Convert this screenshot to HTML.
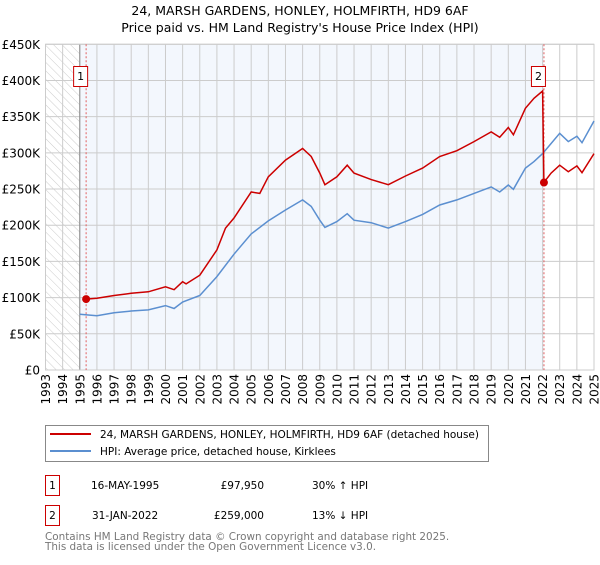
<!DOCTYPE html>
<html><head><meta charset="utf-8"><style>
body{margin:0;background:#fff;width:600px;height:560px;overflow:hidden}
svg{font-family:"DejaVu Sans","Liberation Sans",sans-serif}
</style></head><body>
<svg id="c" width="600" height="560">
<defs><pattern id="hatch" width="6" height="6" patternUnits="userSpaceOnUse" patternTransform="rotate(-45)"><line x1="0" y1="0" x2="0" y2="6" stroke="#ccc" stroke-width="1"/></pattern></defs>
<text x="300" y="15" text-anchor="middle" font-size="12.5">24, MARSH GARDENS, HONLEY, HOLMFIRTH, HD9 6AF</text>
<text x="300" y="32" text-anchor="middle" font-size="12.5">Price paid vs. HM Land Registry's House Price Index (HPI)</text>
<g id="plot"></g>
<rect x="45.5" y="425.5" width="443" height="36" fill="#fff" stroke="#888"/>
<line x1="50" y1="434" x2="91" y2="434" stroke="#cc0000" stroke-width="2"/>
<text x="100" y="438" font-size="10.5">24, MARSH GARDENS, HONLEY, HOLMFIRTH, HD9 6AF (detached house)</text>
<line x1="50" y1="451" x2="91" y2="451" stroke="#5b8fd0" stroke-width="2"/>
<text x="100" y="455" font-size="10.5">HPI: Average price, detached house, Kirklees</text>
<g font-size="10.5">
<rect x="45.5" y="475.5" width="14" height="20" fill="#fff" stroke="#cc0000"/>
<text x="52.5" y="489" text-anchor="middle">1</text>
<text x="91" y="489">16-MAY-1995</text>
<text x="264" y="489" text-anchor="end">£97,950</text>
<text x="312" y="489">30% ↑ HPI</text>
<rect x="45.5" y="505.5" width="14" height="20" fill="#fff" stroke="#cc0000"/>
<text x="52.5" y="519" text-anchor="middle">2</text>
<text x="92" y="519">31-JAN-2022</text>
<text x="264" y="519" text-anchor="end">£259,000</text>
<text x="312" y="519">13% ↓ HPI</text>
</g>
<text x="45" y="540" font-size="10.4" fill="#777">Contains HM Land Registry data © Crown copyright and database right 2025.</text>
<text x="45" y="550" font-size="10.4" fill="#777">This data is licensed under the Open Government Licence v3.0.</text>
</svg>
<script>
const hpiYears=[1995.0,1996,1997,1998,1999,2000,2000.5,2001,2002,2003,2004,2005,2006,2007,2008,2008.5,2009,2009.3,2010,2010.6,2011,2012,2013,2014,2015,2016,2017,2018,2019,2019.5,2020,2020.3,2021,2021.5,2022,2022.5,2023,2023.5,2024,2024.3,2025];
const hpiValues=[77,75,79,81.5,83,89,85,94,103,129,160,188,206,221,235,226,207,197,205,216,207,203.5,196,205,215,228,235,244,253,246,255.6,249.6,279,288,299,313,327,315.5,323,314,344];
const priceYears=[1995.37,1996,1997,1998,1999,2000,2000.5,2001,2001.2,2002,2003,2003.5,2004,2005,2005.5,2006,2007,2008,2008.5,2009,2009.3,2010,2010.6,2011,2012,2013,2014,2015,2016,2017,2018,2019,2019.5,2020,2020.3,2021,2021.5,2022.0,2022.08,2022.5,2023,2023.5,2024,2024.3,2025];
const priceValues=[97.95,99,103,106,108,115,111,122,119,131,166,196,210,246,244,267,290,306,295,272,256,267,283,272,263,256,268,279,295,303,315.5,329,321.5,335,325,361.6,375.4,385.5,259,272,283,274,282,272.6,299];
const yTicks=[0,50,100,150,200,250,300,350,400,450];
const yTickLabels=["£0","£50K","£100K","£150K","£200K","£250K","£300K","£350K","£400K","£450K"];
const xTicks=[1993,1994,1995,1996,1997,1998,1999,2000,2001,2002,2003,2004,2005,2006,2007,2008,2009,2010,2011,2012,2013,2014,2015,2016,2017,2018,2019,2020,2021,2022,2023,2024,2025];
const sales=[{n:"1",year:1995.37,value:97.95},{n:"2",year:2022.08,value:259}];
const L=45.5,R=594,T=44.3,B=370,X0=1993,X1=2025,Ymax=450;
const x=v=>L+(v-X0)/(X1-X0)*(R-L);
const y=v=>B-v/Ymax*(B-T);
const g=document.getElementById('plot');
const NS='http://www.w3.org/2000/svg';
function mk(t,a){const e=document.createElementNS(NS,t);for(const k in a)e.setAttribute(k,a[k]);g.appendChild(e);return e;}
let e;
e=mk('rect',{x:L,y:T,width:x(1995)-L,height:B-T,fill:'url(#hatch)'});


e=mk('rect',{x:x(1995),y:T,width:x(2022.08)-x(1995),height:B-T,fill:'#eef3fc',opacity:0.7});


yTicks.forEach((t,i)=>{
 e=mk('line',{x1:L,x2:R,y1:y(t),y2:y(t),stroke:'#ccc'});
 
 
 e=mk('text',{x:40,y:y(t)+4.5,'text-anchor':'end','font-size':12});
 e.textContent=yTickLabels[i];
 
 
});
xTicks.forEach(t=>{
 e=mk('line',{x1:x(t),x2:x(t),y1:T,y2:B,stroke:'#ccc'});
 
 
 e=mk('text',{x:0,y:0,'text-anchor':'end','font-size':12,transform:`translate(${x(t)+4.5},374) rotate(-90)`});
 e.textContent=t;
 
 
});
e=mk('line',{x1:x(1995),x2:x(1995),y1:T,y2:B,stroke:'#888'});


e=mk('rect',{x:L,y:T,width:R-L,height:B-T,fill:'none',stroke:'#ccc'});


sales.forEach(s=>{
 e=mk('line',{x1:x(s.year),x2:x(s.year),y1:T,y2:B,stroke:'#e06060','stroke-dasharray':'2,2'});
 
 
});
function pts(xs,vs){return xs.map((v,i)=>x(v).toFixed(1)+','+y(vs[i]).toFixed(1)).join(' ');}
e=mk('polyline',{points:pts(hpiYears,hpiValues),fill:'none',stroke:'#5b8fd0','stroke-width':1.5});


e=mk('polyline',{points:pts(priceYears,priceValues),fill:'none',stroke:'#cc0000','stroke-width':1.5});


sales.forEach(s=>{
 e=mk('circle',{cx:x(s.year),cy:y(s.value),r:4,fill:'#cc0000'});
 
 
 const bx=x(s.year)-12;
 e=mk('rect',{x:bx-0.5,y:66.5,width:14,height:20,fill:'#fff',stroke:'#cc0000'});
 
 
 e=mk('text',{x:bx+6.5,y:80,'text-anchor':'middle','font-size':11});
 e.textContent=s.n;
 
 
});
</script>
</body></html>
